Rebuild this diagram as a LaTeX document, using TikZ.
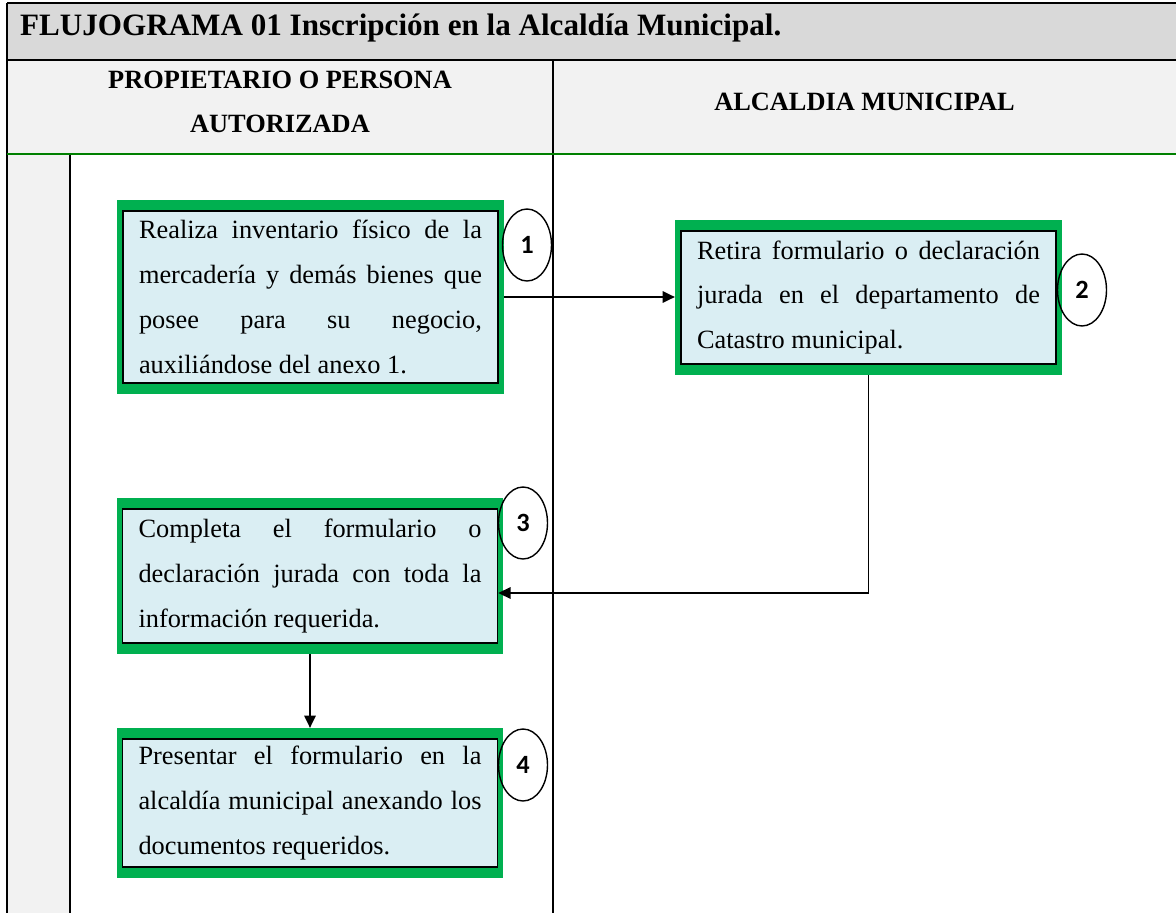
\documentclass[tikz,border=0pt]{standalone}
\usepackage{fontspec}
\setmainfont{Liberation Serif}
\newfontfamily\numfont{Carlito}
\usepackage{tikz}
\usetikzlibrary{arrows.meta,positioning,shapes.geometric,fit,backgrounds}
\definecolor{verdecaja}{HTML}{00B050}
\definecolor{celeste}{HTML}{DAEEF3}
\definecolor{grisTit}{HTML}{D9D9D9}
\definecolor{grisCab}{HTML}{F2F2F2}
\definecolor{verdelinea}{HTML}{008000}
\hbadness=10000

\begin{document}
\begin{tikzpicture}[x=0.02cm, y=-0.02cm,
  paso/.style={draw=black, line width=0.9pt, fill=celeste,
               text width=6.86cm, inner xsep=0.32cm, inner ysep=0pt,
               align=justify, minimum height=#1,
               font=\fontsize{15}{25.5}\selectfont},
  marco/.style={fill=verdecaja, inner xsep=0.1cm, inner ysep=0.2cm},
  num/.style={draw, ellipse, line width=0.8pt, minimum width=0.98cm,
              minimum height=1.44cm, inner sep=0pt,
              font=\numfont\bfseries\fontsize{15}{15}\selectfont},
  cab/.style={font=\bfseries\fontsize{15}{25}\selectfont, align=center},
  flecha/.style={-{Triangle[length=7pt,width=6.5pt]}, line width=1pt}
]
\useasboundingbox (0,0) rectangle (1176,913);

%% Table: title bar, header row, lanes
\fill[grisTit] (7,3) rectangle (1176,60);
\fill[grisCab] (7,60) rectangle (1176,154);
\fill[grisCab] (7,154) rectangle (70,913);
\draw[line width=1.3pt] (7,3) -- (1176,3);
\draw[line width=1.3pt] (7,60) -- (1176,60);
\draw[line width=1.3pt] (7,3) -- (7,913);
\draw[line width=1pt] (553,60) -- (553,913);
\draw[line width=1pt] (70,154) -- (70,913);
\draw[verdelinea, line width=1pt] (7,154) -- (1176,154);

\node[anchor=west, font=\bfseries\fontsize{17.7}{20}\selectfont] (titulo) at (14,28)
  {FLUJOGRAMA 01 Inscripción en la Alcaldía Municipal.};
\node[cab] (colA) at (280,102) {PROPIETARIO O PERSONA\\AUTORIZADA};
\node[cab] (colB) at (864.5,102) {ALCALDIA MUNICIPAL};

%% Steps
\node[paso=3.44cm] (p1) at (310.5,297)
  {Realiza inventario físico de la\linebreak mercadería y demás bienes que\linebreak
   posee para su negocio,\linebreak auxiliándose del anexo 1.};
\node[paso=2.66cm] (p2) at (868.5,297.5)
  {Retira formulario o declaración\linebreak jurada en el departamento de\linebreak
   Catastro municipal.};
\node[paso=2.68cm] (p3) at (310,576)
  {Completa el formulario o\linebreak declaración jurada con toda la\linebreak
   información requerida.};
\node[paso=2.56cm] (p4) at (310,803)
  {Presentar el formulario en la\linebreak alcaldía municipal anexando los\linebreak
   documentos requeridos.};

\begin{scope}[on background layer]
  \node[marco, fit=(p1)] (f1) {};
  \node[marco, fit=(p2)] (f2) {};
  \node[marco, fit=(p3)] (f3) {};
  \node[marco, fit=(p4)] (f4) {};
\end{scope}

%% Step numbers
\node[num] (n1) at (527,245) {1};
\node[num] (n2) at (1082,290) {2};
\node[num] (n3) at (523,523) {3};
\node[num] (n4) at (523,765) {4};

%% Arrows
\draw[flecha] (f1.east) -- (f1.east -| f2.west);
\draw[flecha] (f2.south) |- ([yshift=-0.34cm]p3.east);
\draw[flecha] (f3.south) -- (f4.north);

\end{tikzpicture}
\end{document}
